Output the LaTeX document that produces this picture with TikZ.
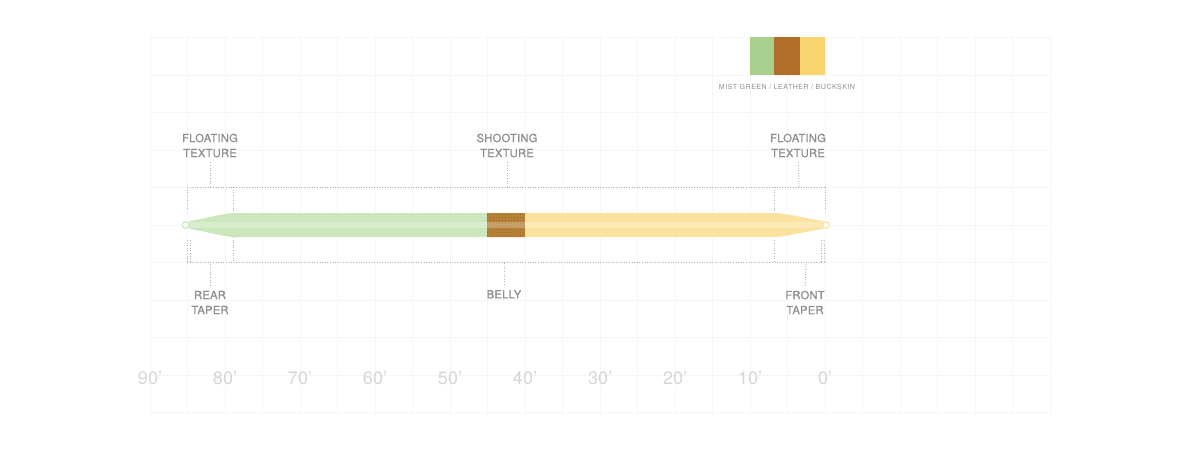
\documentclass[tikz,border=0pt]{standalone}
\usepackage{fontspec}
\setmainfont{TeX Gyre Heros}
\newfontfamily\labfont[FakeBold=0.8, LetterSpace=2]{TeX Gyre Heros}
\newfontfamily\legfont[LetterSpace=8]{TeX Gyre Heros}
\usetikzlibrary{patterns}
\definecolor{lbl}{HTML}{8E8E8E}
\definecolor{tickc}{HTML}{D6D6D6}
\definecolor{dotc}{HTML}{B4B4B4}
\definecolor{gridc}{HTML}{F6F6F6}
\definecolor{mist}{HTML}{A8D18D}
\definecolor{leather}{HTML}{B16E2B}
\definecolor{buck}{HTML}{F9D470}
\definecolor{mistl}{HTML}{CDE7BF}
\definecolor{leatherl}{HTML}{BA8438}
\definecolor{buckl}{HTML}{FCE3A0}
\begin{document}
\begin{tikzpicture}[x=1pt,y=-1pt,
  lab/.style={font=\labfont\fontsize{11.2}{15}\selectfont, text=lbl, align=center, inner sep=0pt},
  tick/.style={font=\fontsize{18}{18}\selectfont, text=tickc, inner sep=0pt},
  legendtext/.style={font=\legfont\fontsize{7}{8}\selectfont, text=lbl, inner sep=0pt},
  dots/.style={draw=dotc, line width=1pt, dash pattern=on 1pt off 1.6pt},
  gridl/.style={draw=gridc, line width=0.6pt},
  swatch/.style={draw=none, minimum width=25pt, minimum height=38pt, inner sep=0pt}]
\useasboundingbox[fill=white] (0,0) rectangle (1200,450);
% faint grid
\foreach \i in {0,...,24} \draw[gridl] ({150+37.5*\i},35) -- ({150+37.5*\i},415);
\foreach \j in {0,...,10} \draw[gridl] (150,{37.5+37.5*\j}) -- (1050,{37.5+37.5*\j});
% legend
\node[swatch, fill=mist, minimum width=24pt] (sg) at (762,56) {};
\node[swatch, fill=leather, minimum width=26pt] (sl) at (787,56) {};
\node[swatch, fill=buck, minimum width=25pt] (sb) at (812.5,56) {};
\node[legendtext] (lt) at (787,87) {MIST GREEN / LEATHER / BUCKSKIN};
% fly line
\begin{scope}
\clip (189,221) .. controls (205,219) and (220,214) .. (233,213) -- (775,213)
  .. controls (790,214) and (808,219) .. (823,221) -- (823,229)
  .. controls (808,231) and (790,236) .. (775,237) -- (233,237)
  .. controls (220,236) and (205,231) .. (189,229) -- cycle;
\fill[mistl] (180,210) rectangle (487,240);
\fill[leatherl] (487,210) rectangle (525,240);
\fill[buckl] (525,210) rectangle (830,240);
\fill[pattern=crosshatch dots, pattern color=mist!70!white, opacity=0.5] (180,210) rectangle (487,240);
\fill[pattern=crosshatch dots, pattern color=leather!70!black, opacity=0.6] (487,210) rectangle (525,240);
\fill[pattern=crosshatch dots, pattern color=buck!80!white, opacity=0.4] (525,210) rectangle (830,240);
\fill[white, opacity=0.25] (180,222) rectangle (830,228);
\end{scope}
\draw[mistl!80!mist, line width=1pt, fill=white] (185.5,225) circle (3.3);
\draw[buckl!80!buck, line width=1pt, fill=white] (826,225) circle (3.3);
% dotted boxes
\coordinate (tl) at (187,187);
\coordinate (tr) at (825,187);
\coordinate (bl) at (187,262);
\coordinate (br) at (825,262);
\draw[dots] (tl) -- (tr);
\draw[dots] (bl) -- (br);
\draw[dots] (tl) -- (187,210);
\draw[dots] (tr) -- (825,210);
\draw[dots] (187,240) -- (bl);
\draw[dots] (190,240) -- (190,262);
\draw[dots] (821,240) -- (821,262);
\draw[dots] (824,240) -- (br);
\draw[dots] (233,187) -- (233,213);
\draw[dots] (233,237) -- (233,262);
\draw[dots] (774,187) -- (774,213);
\draw[dots] (774,240) -- (774,262);
% labels
\node[lab] (ftl) at (210,145.5) {FLOATING\\TEXTURE};
\node[lab] (st) at (507,145.5) {SHOOTING\\TEXTURE};
\node[lab] (ftr) at (798,145.5) {FLOATING\\TEXTURE};
\node[lab] (rt) at (210,302.5) {REAR\\TAPER};
\node[lab, anchor=north] (bel) at (504,290) {BELLY};
\node[lab] (frt) at (805,302.5) {FRONT\\TAPER};
\coordinate (c1) at (210,187);
\coordinate (c2) at (507,187);
\coordinate (c3) at (799,187);
\coordinate (c4) at (210,262);
\coordinate (c5) at (504,262);
\coordinate (c6) at (806,262);
\draw[dots, shorten <=5pt] (ftl) -- (ftl.south |- c1);
\draw[dots, shorten <=5pt] (st) -- (st.south |- c2);
\draw[dots, shorten <=5pt] (ftr) -- (c3);
\draw[dots, shorten <=5pt] (rt) -- (rt.north |- c4);
\draw[dots, shorten <=5pt] (bel) -- (c5);
\draw[dots, shorten <=5pt] (frt) -- (c6);
% ticks
\foreach \v [count=\k from 0] in {90,80,70,60,50,40,30,20,10,0}
  \node[tick] (t\v) at ({150+75*\k},378) {\v’};
\end{tikzpicture}
\end{document}
